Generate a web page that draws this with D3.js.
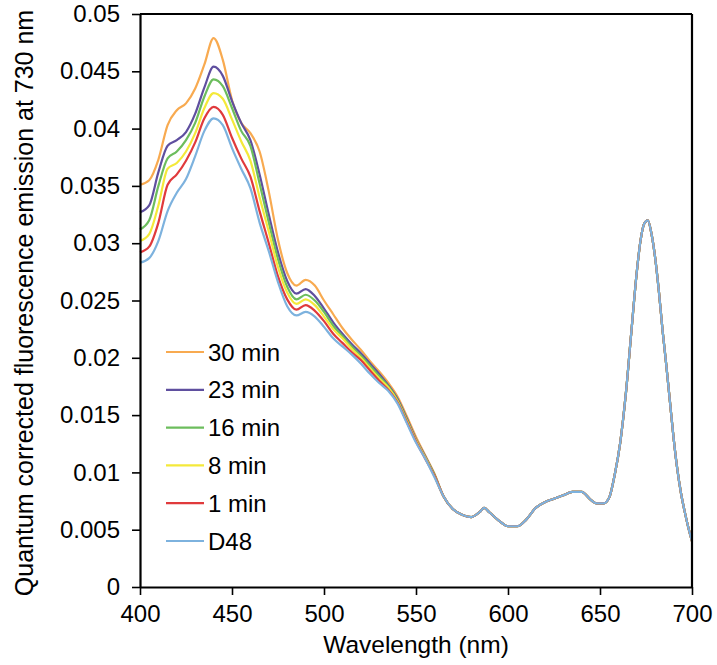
<!DOCTYPE html>
<html>
<head>
<meta charset="utf-8">
<script src="https://cdn.jsdelivr.net/npm/d3@7"></script>
<style>
  body { margin: 0; background: #fff; }
  svg text { font-family: "Liberation Sans", Arial, Helvetica, sans-serif; fill: #000; }
  .line { fill: none; stroke-width: 2.2; stroke-linejoin: round; }
</style>
</head>
<body>
<svg id="chart"></svg>
<script>
var width = 717, height = 665;

// wavelengths for the part where the series differ (nm)
var headWavelengths = [400, 405, 410, 415, 420, 425, 430, 435, 440, 445, 450, 455, 460, 465, 470, 475, 480,
    485, 490, 495, 500, 505, 510, 515, 520, 525, 530, 535, 540, 545, 550, 555, 560];

var min30 = [0.0351, 0.0355, 0.0373, 0.0403, 0.0416, 0.0422, 0.0435, 0.0456, 0.0479, 0.0460, 0.0425, 0.0405, 0.0396,
    0.0380, 0.0345, 0.0303, 0.0274, 0.0263, 0.0268, 0.0263, 0.0250, 0.0238, 0.0226, 0.0216, 0.0207, 0.0197, 0.0188,
    0.0178, 0.0166, 0.0149, 0.0131, 0.0115, 0.0099];
var min23 = [0.0327, 0.0333, 0.0362, 0.0385, 0.0390, 0.0397, 0.0413, 0.0436, 0.0454, 0.0446, 0.0424, 0.0405, 0.0390,
    0.0360, 0.0325, 0.0292, 0.0267, 0.0256, 0.0260, 0.0254, 0.0243, 0.0231, 0.0221, 0.0212, 0.0204, 0.0195, 0.0186,
    0.0176, 0.0164, 0.0147, 0.0129, 0.0114, 0.0098];
var min16 = [0.0312, 0.0320, 0.0350, 0.0374, 0.0380, 0.0390, 0.0405, 0.0428, 0.0443, 0.0437, 0.0418, 0.0398, 0.0385,
    0.0352, 0.0318, 0.0286, 0.0262, 0.0251, 0.0255, 0.0250, 0.0240, 0.0228, 0.0219, 0.0210, 0.0202, 0.0193, 0.0184,
    0.0175, 0.0163, 0.0146, 0.0128, 0.0113, 0.0098];
var min8 = [0.0302, 0.0308, 0.0333, 0.0365, 0.0370, 0.0380, 0.0396, 0.0418, 0.0431, 0.0426, 0.0408, 0.0389, 0.0372,
    0.0340, 0.0310, 0.0279, 0.0257, 0.0247, 0.0251, 0.0246, 0.0236, 0.0225, 0.0217, 0.0208, 0.0200, 0.0191, 0.0182,
    0.0174, 0.0162, 0.0145, 0.0128, 0.0113, 0.0097];
var min1 = [0.0292, 0.0297, 0.0318, 0.0351, 0.0360, 0.0372, 0.0388, 0.0409, 0.0419, 0.0412, 0.0392, 0.0374, 0.0358,
    0.0328, 0.0300, 0.0271, 0.0251, 0.0242, 0.0246, 0.0241, 0.0232, 0.0221, 0.0213, 0.0205, 0.0198, 0.0189, 0.0180,
    0.0172, 0.0161, 0.0144, 0.0127, 0.0112, 0.0097];
var d48 = [0.0283, 0.0287, 0.0302, 0.0328, 0.0344, 0.0356, 0.0376, 0.0398, 0.0409, 0.0403, 0.0383, 0.0365, 0.0348,
    0.0318, 0.0293, 0.0266, 0.0245, 0.0237, 0.0240, 0.0236, 0.0227, 0.0217, 0.0210, 0.0203, 0.0195, 0.0186, 0.0178,
    0.0171, 0.0160, 0.0143, 0.0126, 0.0112, 0.0096];

// beyond 560 nm all spectra lie on top of each other
var tailWavelengths = [565, 570, 575, 580, 585, 587, 590, 595, 600, 605, 610, 615, 620, 625, 630, 635, 640, 645,
    648, 652, 655, 658, 661, 664, 667, 670, 672, 674, 676, 678, 680, 682, 684, 686, 688, 690, 692, 694, 696, 698, 700];
var tailValues = [0.0079, 0.0068, 0.0063, 0.0061, 0.0066, 0.0069, 0.0065, 0.0058, 0.0053, 0.0053, 0.0059, 0.0069,
    0.0074, 0.0077, 0.0080, 0.0083, 0.0083, 0.0076, 0.0073, 0.0073, 0.0078, 0.0098, 0.0126, 0.0168, 0.0222, 0.0275,
    0.0302, 0.0317, 0.0320, 0.0308, 0.0287, 0.0258, 0.0224, 0.0194, 0.0162, 0.0130, 0.0103, 0.0082, 0.0066, 0.0052,
    0.0040];

var seriesNames = ["30 min", "23 min", "16 min", "8 min", "1 min", "D48"];
var seriesColors = ["#f8aa50", "#5f4f9f", "#6cbd5d", "#f4e93a", "#e03a3c", "#7db2de"];
var xTicks = [400, 450, 500, 550, 600, 650, 700];
var yTicks = [0, 0.005, 0.01, 0.015, 0.02, 0.025, 0.03, 0.035, 0.04, 0.045, 0.05];
var yTickLabels = ["0", "0.005", "0.01", "0.015", "0.02", "0.025", "0.03", "0.035", "0.04", "0.045", "0.05"];

var heads = [min30, min23, min16, min8, min1, d48];
var series = seriesNames.map(function (name, i) {
    var pts = headWavelengths.map(function (w, j) { return { w: w, v: heads[i][j] }; });
    tailWavelengths.forEach(function (w, j) { pts.push({ w: w, v: tailValues[j] }); });
    return { name: name, color: seriesColors[i], values: pts };
});

var margin = { left: 140, right: 25, top: 14, bottom: 78 };

var svg = d3.select("#chart")
    .attr("width", width)
    .attr("height", height);

var x = d3.scaleLinear().domain([400, 700]).range([margin.left, width - margin.right]);
var y = d3.scaleLinear().domain([0, 0.05]).range([height - margin.bottom, margin.top]);

var line = d3.line()
    .x(function (d) { return x(d.w); })
    .y(function (d) { return y(d.v); })
    .curve(d3.curveMonotoneX);

// spectra, D48 drawn last
svg.append("g")
    .selectAll("path")
    .data(series)
    .enter()
    .append("path")
    .attr("class", "line")
    .attr("stroke", function (d) { return d.color; })
    .attr("d", function (d) { return line(d.values); });

// frame lines top and right
svg.append("line")
    .attr("x1", x(400)).attr("x2", x(700))
    .attr("y1", y(0.05)).attr("y2", y(0.05))
    .attr("stroke", "#000").attr("stroke-width", 2.2);
svg.append("line")
    .attr("x1", x(700)).attr("x2", x(700))
    .attr("y1", y(0.05)).attr("y2", y(0))
    .attr("stroke", "#000").attr("stroke-width", 2.2);

var xAxis = svg.append("g")
    .attr("transform", `translate(0,${y(0)})`)
    .call(d3.axisBottom(x).tickValues(xTicks).tickSize(8).tickPadding(10).tickSizeOuter(0));

var yAxis = svg.append("g")
    .attr("transform", `translate(${x(400)},0)`)
    .call(d3.axisLeft(y).tickValues(yTicks).tickSize(8).tickPadding(12).tickSizeOuter(0)
        .tickFormat(function (d, i) { return yTickLabels[i]; }));

[xAxis, yAxis].forEach(function (g) {
    g.select(".domain").attr("stroke", "#000").attr("stroke-width", 2.2);
    g.selectAll(".tick line").attr("stroke", "#000").attr("stroke-width", 1.6);
    g.selectAll(".tick text")
        .attr("font-size", "24px")
        .attr("font-family", "Liberation Sans, Arial, sans-serif")
        .attr("fill", "#000");
});

svg.append("text")
    .attr("x", (x(400) + x(700)) / 2)
    .attr("y", 653)
    .attr("text-anchor", "middle")
    .attr("font-size", "24.5px")
    .text("Wavelength (nm)");

svg.append("text")
    .attr("transform", `translate(33,303) rotate(-90)`)
    .attr("text-anchor", "middle")
    .attr("font-size", "25px")
    .text("Quantum corrected fluorescence emission at 730 nm");

// legend
var legend = svg.append("g")
    .selectAll("g")
    .data(series)
    .enter()
    .append("g")
    .attr("transform", function (d, i) { return `translate(166,${352 + i * 37.8})`; });

legend.append("line")
    .attr("x1", 0).attr("x2", 38)
    .attr("stroke", function (d) { return d.color; })
    .attr("stroke-width", 2.2);

legend.append("text")
    .attr("x", 42)
    .attr("dy", "0.36em")
    .attr("font-size", "24px")
    .text(function (d) { return d.name; });
</script>
</body>
</html>
